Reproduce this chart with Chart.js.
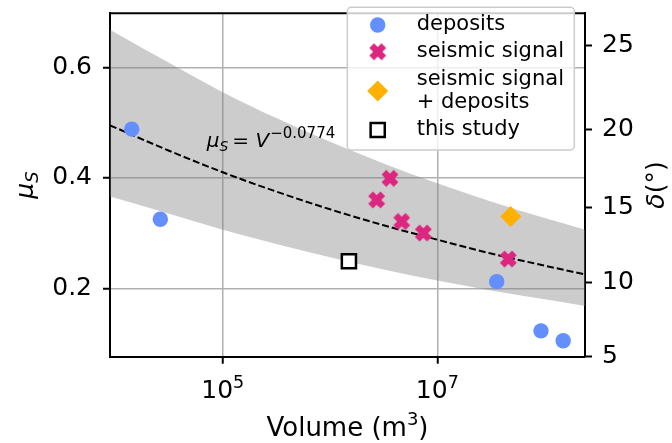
<!DOCTYPE html>
<html lang="en">
<head>
    <meta charset="UTF-8">
    <title>Friction coefficient vs volume</title>
    <script src="https://cdn.jsdelivr.net/npm/chart.js"></script>
    <style>
        body { margin: 0; background: #fff; }
        #wrap { width: 672px; height: 443px; }
    </style>
</head>
<body>
    <div id="wrap"><canvas id="muChart" width="672" height="443"></canvas></div>
    <script>
        // ---- data ----
        const depositsV = [1.42e4, 2.62e4, 3.58e7, 9.25e7, 1.49e8];
        const depositsMu = [0.488, 0.325, 0.212, 0.123, 0.105];

        const seismicV = [2.72e6, 3.62e6, 4.66e6, 7.41e6, 4.59e7];
        const seismicMu = [0.360, 0.399, 0.321, 0.300, 0.253];

        const bothV = [4.83e7];
        const bothMu = [0.330];

        const studyV = [1.5e6];
        const studyMu = [0.249];

        // fit line and its band, read at half-decade steps
        const fitV = [8.9e3, 3.16e4, 1e5, 3.16e5, 1e6, 3.16e6, 1e7, 3.16e7, 1e8, 2.38e8];
        const fitMu = [0.495, 0.449, 0.410, 0.375, 0.343, 0.314, 0.288, 0.263, 0.241, 0.225];
        const bandUpper = [0.668, 0.608, 0.555, 0.508, 0.465, 0.426, 0.390, 0.357, 0.327, 0.306];
        const bandLower = [0.366, 0.335, 0.306, 0.280, 0.256, 0.234, 0.214, 0.196, 0.180, 0.168];

        const xTickValues = [1e5, 1e7];
        const xTickExp = ['5', '7'];
        const muTicks = [0.2, 0.4, 0.6];
        const deltaLabels = ['5', '10', '15', '20', '25'];
        const deltaAtMu = [0.0762, 0.2109, 0.3459, 0.4883, 0.6398];

        const legendLabels = [['deposits'], ['seismic signal'], ['seismic signal', '+ deposits'], ['this study']];

        const FONT = "'DejaVu Sans', sans-serif";
        const BLUE = '#648FFF', MAGENTA = '#DC267F', GOLD = '#FFB000';

        const pts = (xs, ys) => xs.map((x, i) => ({ x: x, y: ys[i] }));

        // filled "X" marker like matplotlib's
        function makeX(color) {
            const s = 20;
            const c = document.createElement('canvas');
            c.width = s; c.height = s;
            const g = c.getContext('2d');
            g.translate(s / 2, s / 2);
            g.rotate(Math.PI / 4);
            const L = 8.6, w = 3.3;
            g.fillStyle = color;
            g.beginPath();
            g.moveTo(-w, -L); g.lineTo(w, -L); g.lineTo(w, -w); g.lineTo(L, -w); g.lineTo(L, w);
            g.lineTo(w, w); g.lineTo(w, L); g.lineTo(-w, L); g.lineTo(-w, w); g.lineTo(-L, w);
            g.lineTo(-L, -w); g.lineTo(-w, -w); g.closePath();
            g.fill();
            return c;
        }
        const xMarker = makeX(MAGENTA);

        const legendStyles = [
            { pointStyle: 'circle', radius: 7.7, backgroundColor: BLUE, borderColor: BLUE, borderWidth: 0 },
            { pointStyle: xMarker, radius: 9, backgroundColor: MAGENTA, borderColor: MAGENTA, borderWidth: 0 },
            { pointStyle: 'rectRot', radius: 10.5, backgroundColor: GOLD, borderColor: GOLD, borderWidth: 0 },
            { pointStyle: 'rect', radius: 10, backgroundColor: '#fff', borderColor: '#000', borderWidth: 2.5 }
        ];

        const overlay = {
            id: 'overlay',
            afterDatasetsDraw(chart) {
                const ctx = chart.ctx, a = chart.chartArea;
                const xs = chart.scales.x, ys = chart.scales.y;
                ctx.save();
                // top spine
                ctx.strokeStyle = '#000'; ctx.lineWidth = 2;
                ctx.beginPath(); ctx.moveTo(a.left - 1, a.top); ctx.lineTo(a.right + 1, a.top); ctx.stroke();

                // x tick labels as 10 with raised exponent
                ctx.fillStyle = '#000'; ctx.textBaseline = 'alphabetic'; ctx.textAlign = 'left';
                xTickValues.forEach((v, i) => {
                    ctx.font = '25px ' + FONT;
                    const wb = ctx.measureText('10').width;
                    ctx.font = '17.5px ' + FONT;
                    const we = ctx.measureText(xTickExp[i]).width;
                    const x0 = xs.getPixelForValue(v) - (wb + we) / 2;
                    ctx.font = '25px ' + FONT; ctx.fillText('10', x0, 398);
                    ctx.font = '17.5px ' + FONT; ctx.fillText(xTickExp[i], x0 + wb, 387.5);
                });

                // fit equation
                let x = xs.getPixelForValue(7.1e4), y = ys.getPixelForValue(0.455);
                ctx.font = 'italic 20px ' + FONT; ctx.fillText('\u03bc', x, y); x += ctx.measureText('\u03bc').width;
                ctx.font = 'italic 14px ' + FONT; ctx.fillText('S', x, y + 4); x += ctx.measureText('S').width + 4;
                ctx.font = '20px ' + FONT; ctx.fillText('=', x, y); x += ctx.measureText('= ').width;
                ctx.font = 'italic 20px ' + FONT; ctx.fillText('V', x, y); x += ctx.measureText('V').width + 1;
                ctx.font = '15px ' + FONT; ctx.fillText('\u22120.0774', x, y - 9);

                // x axis title: Volume (m^3)
                ctx.font = '26px ' + FONT;
                const w1 = ctx.measureText('Volume (m').width, w3 = ctx.measureText(')').width;
                ctx.font = '18px ' + FONT;
                const w2 = ctx.measureText('3').width;
                let tx = (a.left + a.right) / 2 - (w1 + w2 + w3) / 2;
                ctx.font = '26px ' + FONT; ctx.fillText('Volume (m', tx, 436);
                ctx.font = '18px ' + FONT; ctx.fillText('3', tx + w1, 425);
                ctx.font = '26px ' + FONT; ctx.fillText(')', tx + w1 + w2, 436);

                const cy = (a.top + a.bottom) / 2;
                ctx.save();
                ctx.translate(33, cy); ctx.rotate(-Math.PI / 2);
                ctx.font = 'italic 25px ' + FONT;
                const wMu = ctx.measureText('\u03bc').width;
                ctx.font = 'italic 18px ' + FONT;
                const wS = ctx.measureText('S').width;
                let sx = -(wMu + wS) / 2;
                ctx.font = 'italic 25px ' + FONT; ctx.fillText('\u03bc', sx, 0);
                ctx.font = 'italic 18px ' + FONT; ctx.fillText('S', sx + wMu, 5);
                ctx.restore();

                ctx.save();
                ctx.translate(664, cy); ctx.rotate(-Math.PI / 2);
                ctx.font = 'italic 25px ' + FONT;
                const wD = ctx.measureText('\u03b4').width;
                ctx.font = '25px ' + FONT;
                const wP = ctx.measureText('(\u00b0)').width;
                sx = -(wD + wP) / 2;
                ctx.font = 'italic 25px ' + FONT; ctx.fillText('\u03b4', sx, 0);
                ctx.font = '25px ' + FONT; ctx.fillText('(\u00b0)', sx + wD, 0);
                ctx.restore();

                // legend
                const lx = a.right - 237.7, ly = a.top - 6, lw = 227, lh = 142.7;
                ctx.fillStyle = 'rgba(255,255,255,0.8)';
                ctx.strokeStyle = '#cccccc'; ctx.lineWidth = 1.5;
                ctx.beginPath(); ctx.roundRect(lx, ly, lw, lh, 4); ctx.fill(); ctx.stroke();
                const rowY = [17.7, 44.4, 83.7, 122.7];
                ctx.font = '21px ' + FONT; ctx.textAlign = 'left'; ctx.textBaseline = 'middle';
                legendLabels.forEach((lines, i) => {
                    const st = legendStyles[i];
                    ctx.fillStyle = st.backgroundColor; ctx.strokeStyle = st.borderColor; ctx.lineWidth = st.borderWidth;
                    Chart.helpers.drawPoint(ctx, { pointStyle: st.pointStyle, radius: st.radius, borderWidth: st.borderWidth, rotation: 0 }, lx + 30.4, ly + rowY[i]);
                    ctx.fillStyle = '#000';
                    const y0 = ly + rowY[i] - (lines.length - 1) * 11.7;
                    lines.forEach((t, j) => ctx.fillText(t, lx + 69.4, y0 + j * 23.4));
                });
                ctx.restore();
            }
        };

        const tickFont = { family: FONT, size: 25 };
        const noPad = s => { s.paddingTop = 0; s.paddingBottom = 0; s.paddingLeft = 0; s.paddingRight = 0; };

        new Chart(document.getElementById('muChart'), {
            type: 'scatter',
            data: {
                datasets: [
                    { label: 'this study', data: pts(studyV, studyMu), pointStyle: 'rect', pointRadius: 10, backgroundColor: '#fff', borderColor: '#000', borderWidth: 2.5, order: 1 },
                    { label: 'seismic signal + deposits', data: pts(bothV, bothMu), pointStyle: 'rectRot', pointRadius: 10.5, backgroundColor: GOLD, borderColor: GOLD, borderWidth: 0, order: 2 },
                    { label: 'seismic signal', data: pts(seismicV, seismicMu), pointStyle: xMarker, pointRadius: 9, backgroundColor: MAGENTA, borderColor: MAGENTA, order: 3 },
                    { label: 'deposits', data: pts(depositsV, depositsMu), pointStyle: 'circle', pointRadius: 7.7, backgroundColor: BLUE, borderColor: BLUE, borderWidth: 0, order: 4 },
                    { label: 'fit', data: pts(fitV, fitMu), showLine: true, borderColor: '#000', borderWidth: 2, borderDash: [7, 3], pointRadius: 0, cubicInterpolationMode: 'monotone', order: 5 },
                    { label: 'band lower', data: pts(fitV, bandLower), showLine: true, borderWidth: 0, pointRadius: 0, cubicInterpolationMode: 'monotone', fill: false, order: 6 },
                    { label: 'band upper', data: pts(fitV, bandUpper), showLine: true, borderWidth: 0, pointRadius: 0, cubicInterpolationMode: 'monotone', fill: '-1', backgroundColor: 'rgba(128,128,128,0.4)', order: 7 }
                ]
            },
            options: {
                responsive: false,
                animation: false,
                events: [],
                layout: { padding: { top: 13.3 } },
                plugins: { legend: { display: false }, tooltip: { enabled: false } },
                scales: {
                    x: {
                        type: 'logarithmic',
                        min: 8.9e3, max: 2.38e8,
                        afterBuildTicks: s => { s.ticks = xTickValues.map(v => ({ value: v })); },
                        afterFit: s => { s.height = 86.3; noPad(s); },
                        ticks: { display: false },
                        grid: { color: '#b0b0b0', lineWidth: 1.5, tickColor: '#000', tickWidth: 2, tickLength: 7 },
                        border: { color: '#000', width: 2 }
                    },
                    y: {
                        type: 'linear', position: 'left',
                        min: 0.0762, max: 0.6977,
                        afterBuildTicks: s => { s.ticks = muTicks.map(v => ({ value: v })); },
                        afterFit: s => { s.width = 110; noPad(s); },
                        ticks: { font: tickFont, color: '#000', padding: 11, callback: v => v.toFixed(1) },
                        grid: { color: '#b0b0b0', lineWidth: 1.5, tickColor: '#000', tickWidth: 2, tickLength: 7 },
                        border: { color: '#000', width: 2 }
                    },
                    y2: {
                        type: 'linear', position: 'right',
                        min: 0.0762, max: 0.6977,
                        afterBuildTicks: s => { s.ticks = deltaAtMu.map(v => ({ value: v })); },
                        afterFit: s => { s.width = 87; noPad(s); },
                        ticks: { font: tickFont, color: '#000', padding: 10, callback: (v, i) => deltaLabels[i] },
                        grid: { drawOnChartArea: false, tickColor: '#000', tickWidth: 2, tickLength: 7 },
                        border: { color: '#000', width: 2 }
                    }
                }
            },
            plugins: [overlay]
        });
    </script>
</body>
</html>
